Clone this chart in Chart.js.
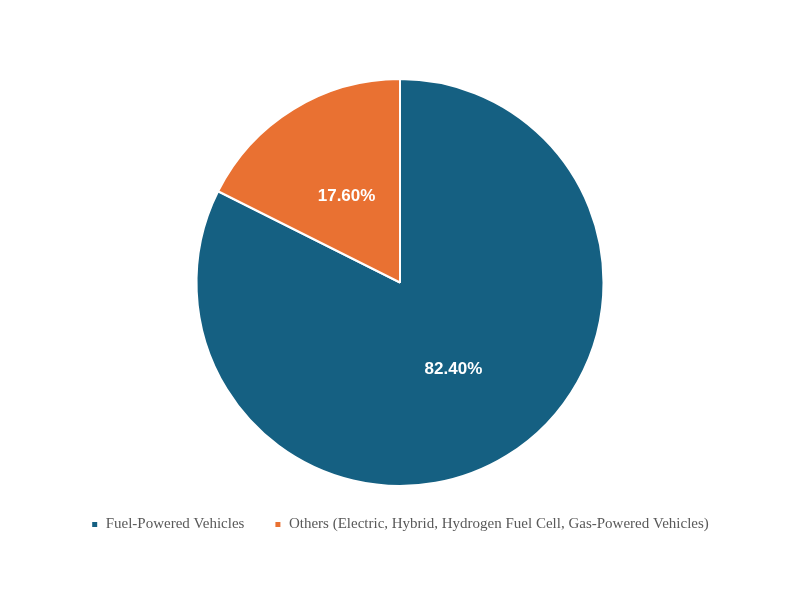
<!DOCTYPE html>
<html><head><meta charset="utf-8">
<script src="https://cdn.jsdelivr.net/npm/chart.js"></script>
<style>body{margin:0;background:#fff}#wrap{width:800px;height:600px}</style>
</head><body><div id="wrap"><canvas id="c"></canvas></div>
<script>
var categories = ['Fuel-Powered Vehicles', 'Others (Electric, Hybrid, Hydrogen Fuel Cell, Gas-Powered Vehicles)'];
var shares = [82.4, 17.6];
var colors = ['#156082', '#E97132'];

// draw percentage text on each slice
var sliceLabels = {
  id: 'sliceLabels',
  afterDatasetsDraw: function(chart) {
    var ctx = chart.ctx;
    var meta = chart.getDatasetMeta(0);
    ctx.save();
    ctx.fillStyle = '#fff';
    ctx.font = 'bold 17px "Liberation Sans", Arial, sans-serif';
    ctx.textAlign = 'center';
    ctx.textBaseline = 'middle';
    meta.data.forEach(function(arc, i) {
      var p = arc.tooltipPosition();
      ctx.fillText(shares[i].toFixed(2) + '%', p.x, p.y);
    });
    ctx.restore();
  }
};

new Chart(document.getElementById('c'), {
  type: 'pie',
  data: {
    labels: categories,
    datasets: [{ data: shares, backgroundColor: colors, borderColor: '#fff', borderWidth: 2 }]
  },
  options: {
    responsive: true,
    maintainAspectRatio: false,
    animation: false,
    layout: { padding: { top: 78, bottom: 58 } },
    plugins: {
      tooltip: { enabled: false },
      legend: {
        position: 'bottom',
        labels: {
          boxWidth: 7, boxHeight: 7, padding: 30, color: '#595959',
          font: { family: '"Liberation Serif", "Times New Roman", serif', size: 15 }
        }
      }
    }
  },
  plugins: [sliceLabels]
});
</script>
</body></html>
